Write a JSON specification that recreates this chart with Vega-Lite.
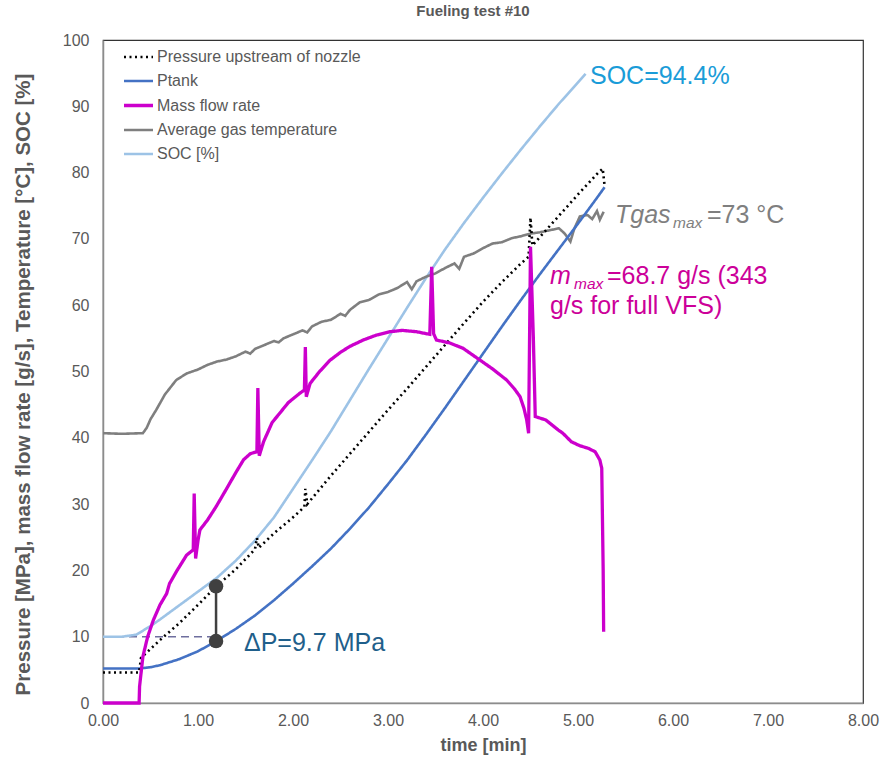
{
  "$schema": "https://vega.github.io/schema/vega-lite/v6.json",
  "width": 760,
  "height": 663,
  "autosize": {"type": "none"},
  "padding": {"left": 103, "top": 40, "right": 21, "bottom": 59},
  "background": "white",
  "title": {"text": "Fueling test #10", "fontSize": 15, "font": "Liberation Sans", "fontWeight": "bold", "color": "#595959", "offset": 13, "dx": -10},
  "config": {
    "view": {"stroke": "#333333", "strokeWidth": 1.2},
    "scale": {"continuousPadding": 0},
    "axis": {"grid": false, "ticks": false, "labelFlush": false, "domainColor": "#8c8c8c", "domainWidth": 1.5, "labelFont": "Liberation Sans", "labelFontSize": 16, "labelColor": "#595959", "titleFont": "Liberation Sans", "titleFontWeight": "bold", "titleFontSize": 18, "titleColor": "#595959"},
    "legend": {"labelFont": "Liberation Sans", "labelFontSize": 16, "labelColor": "#595959", "labelLimit": 400}
  },
  "datasets": {
    "series": [
      {"s": "SOC [%]", "t": 0, "v": 10}, {"s": "SOC [%]", "t": 0.2, "v": 10}, {"s": "SOC [%]", "t": 0.35, "v": 10.3}, {"s": "SOC [%]", "t": 0.5, "v": 11.6}, {"s": "SOC [%]", "t": 0.6, "v": 12.6}, {"s": "SOC [%]", "t": 0.8, "v": 14.7}, {"s": "SOC [%]", "t": 1.0, "v": 16.8}, {"s": "SOC [%]", "t": 1.2, "v": 18.9}, {"s": "SOC [%]", "t": 1.4, "v": 21.5}, {"s": "SOC [%]", "t": 1.6, "v": 24.5}, {"s": "SOC [%]", "t": 1.8, "v": 28.0}, {"s": "SOC [%]", "t": 2.0, "v": 32.3}, {"s": "SOC [%]", "t": 2.2, "v": 36.6}, {"s": "SOC [%]", "t": 2.4, "v": 41.0}, {"s": "SOC [%]", "t": 2.6, "v": 45.7}, {"s": "SOC [%]", "t": 2.8, "v": 50.4}, {"s": "SOC [%]", "t": 3.0, "v": 55.0}, {"s": "SOC [%]", "t": 3.2, "v": 59.6}, {"s": "SOC [%]", "t": 3.4, "v": 64.1}, {"s": "SOC [%]", "t": 3.6, "v": 68.4}, {"s": "SOC [%]", "t": 3.8, "v": 72.4}, {"s": "SOC [%]", "t": 4.0, "v": 76.2}, {"s": "SOC [%]", "t": 4.2, "v": 79.9}, {"s": "SOC [%]", "t": 4.4, "v": 83.5}, {"s": "SOC [%]", "t": 4.6, "v": 87.0}, {"s": "SOC [%]", "t": 4.8, "v": 90.4}, {"s": "SOC [%]", "t": 5.0, "v": 93.6}, {"s": "SOC [%]", "t": 5.08, "v": 94.9},

      {"s": "Average gas temperature", "t": 0, "v": 40.7}, {"s": "Average gas temperature", "t": 0.2, "v": 40.6}, {"s": "Average gas temperature", "t": 0.42, "v": 40.7}, {"s": "Average gas temperature", "t": 0.46, "v": 41.5}, {"s": "Average gas temperature", "t": 0.5, "v": 42.8}, {"s": "Average gas temperature", "t": 0.56, "v": 44.2}, {"s": "Average gas temperature", "t": 0.65, "v": 46.5}, {"s": "Average gas temperature", "t": 0.77, "v": 48.7}, {"s": "Average gas temperature", "t": 0.88, "v": 49.7}, {"s": "Average gas temperature", "t": 1.0, "v": 50.3}, {"s": "Average gas temperature", "t": 1.1, "v": 51.0}, {"s": "Average gas temperature", "t": 1.2, "v": 51.5}, {"s": "Average gas temperature", "t": 1.3, "v": 51.8}, {"s": "Average gas temperature", "t": 1.4, "v": 52.3}, {"s": "Average gas temperature", "t": 1.5, "v": 53.0}, {"s": "Average gas temperature", "t": 1.55, "v": 52.7}, {"s": "Average gas temperature", "t": 1.6, "v": 53.4}, {"s": "Average gas temperature", "t": 1.7, "v": 54.0}, {"s": "Average gas temperature", "t": 1.8, "v": 54.6}, {"s": "Average gas temperature", "t": 1.85, "v": 54.4}, {"s": "Average gas temperature", "t": 1.9, "v": 55.0}, {"s": "Average gas temperature", "t": 2.0, "v": 55.6}, {"s": "Average gas temperature", "t": 2.1, "v": 56.2}, {"s": "Average gas temperature", "t": 2.15, "v": 55.9}, {"s": "Average gas temperature", "t": 2.2, "v": 56.8}, {"s": "Average gas temperature", "t": 2.3, "v": 57.5}, {"s": "Average gas temperature", "t": 2.4, "v": 57.8}, {"s": "Average gas temperature", "t": 2.5, "v": 58.7}, {"s": "Average gas temperature", "t": 2.55, "v": 58.4}, {"s": "Average gas temperature", "t": 2.6, "v": 59.3}, {"s": "Average gas temperature", "t": 2.7, "v": 60.4}, {"s": "Average gas temperature", "t": 2.8, "v": 60.8}, {"s": "Average gas temperature", "t": 2.9, "v": 61.6}, {"s": "Average gas temperature", "t": 3.0, "v": 62.0}, {"s": "Average gas temperature", "t": 3.1, "v": 62.6}, {"s": "Average gas temperature", "t": 3.2, "v": 63.5}, {"s": "Average gas temperature", "t": 3.25, "v": 62.4}, {"s": "Average gas temperature", "t": 3.3, "v": 63.6}, {"s": "Average gas temperature", "t": 3.4, "v": 64.3}, {"s": "Average gas temperature", "t": 3.5, "v": 64.8}, {"s": "Average gas temperature", "t": 3.6, "v": 65.6}, {"s": "Average gas temperature", "t": 3.7, "v": 66.3}, {"s": "Average gas temperature", "t": 3.75, "v": 65.5}, {"s": "Average gas temperature", "t": 3.8, "v": 67.3}, {"s": "Average gas temperature", "t": 3.9, "v": 67.8}, {"s": "Average gas temperature", "t": 4.0, "v": 68.6}, {"s": "Average gas temperature", "t": 4.1, "v": 69.3}, {"s": "Average gas temperature", "t": 4.2, "v": 69.5}, {"s": "Average gas temperature", "t": 4.3, "v": 70.1}, {"s": "Average gas temperature", "t": 4.4, "v": 70.4}, {"s": "Average gas temperature", "t": 4.5, "v": 70.8}, {"s": "Average gas temperature", "t": 4.6, "v": 71.0}, {"s": "Average gas temperature", "t": 4.7, "v": 71.3}, {"s": "Average gas temperature", "t": 4.8, "v": 71.6}, {"s": "Average gas temperature", "t": 4.86, "v": 70.8}, {"s": "Average gas temperature", "t": 4.92, "v": 69.6}, {"s": "Average gas temperature", "t": 4.96, "v": 71.5}, {"s": "Average gas temperature", "t": 5.02, "v": 73.4}, {"s": "Average gas temperature", "t": 5.1, "v": 73.6}, {"s": "Average gas temperature", "t": 5.15, "v": 73.0}, {"s": "Average gas temperature", "t": 5.2, "v": 74.2}, {"s": "Average gas temperature", "t": 5.23, "v": 72.9}, {"s": "Average gas temperature", "t": 5.27, "v": 74.1},

      {"s": "Ptank", "t": 0, "v": 5.2}, {"s": "Ptank", "t": 0.38, "v": 5.2}, {"s": "Ptank", "t": 0.5, "v": 5.4}, {"s": "Ptank", "t": 0.6, "v": 5.7}, {"s": "Ptank", "t": 0.8, "v": 6.6}, {"s": "Ptank", "t": 1.0, "v": 7.8}, {"s": "Ptank", "t": 1.2, "v": 9.4}, {"s": "Ptank", "t": 1.4, "v": 11.2}, {"s": "Ptank", "t": 1.6, "v": 13.2}, {"s": "Ptank", "t": 1.8, "v": 15.5}, {"s": "Ptank", "t": 2.0, "v": 18.0}, {"s": "Ptank", "t": 2.2, "v": 20.6}, {"s": "Ptank", "t": 2.4, "v": 23.3}, {"s": "Ptank", "t": 2.6, "v": 26.3}, {"s": "Ptank", "t": 2.8, "v": 29.5}, {"s": "Ptank", "t": 3.0, "v": 33.0}, {"s": "Ptank", "t": 3.2, "v": 36.6}, {"s": "Ptank", "t": 3.4, "v": 40.5}, {"s": "Ptank", "t": 3.6, "v": 44.5}, {"s": "Ptank", "t": 3.8, "v": 48.6}, {"s": "Ptank", "t": 4.0, "v": 52.7}, {"s": "Ptank", "t": 4.2, "v": 56.8}, {"s": "Ptank", "t": 4.4, "v": 60.8}, {"s": "Ptank", "t": 4.6, "v": 64.7}, {"s": "Ptank", "t": 4.8, "v": 68.5}, {"s": "Ptank", "t": 5.0, "v": 72.3}, {"s": "Ptank", "t": 5.2, "v": 76.2}, {"s": "Ptank", "t": 5.28, "v": 77.8},

      {"s": "Pressure upstream of nozzle", "t": 0, "v": 4.6}, {"s": "Pressure upstream of nozzle", "t": 0.38, "v": 4.6}, {"s": "Pressure upstream of nozzle", "t": 0.4, "v": 6.8}, {"s": "Pressure upstream of nozzle", "t": 0.6, "v": 9.5}, {"s": "Pressure upstream of nozzle", "t": 0.8, "v": 12.0}, {"s": "Pressure upstream of nozzle", "t": 1.0, "v": 14.8}, {"s": "Pressure upstream of nozzle", "t": 1.2, "v": 17.7}, {"s": "Pressure upstream of nozzle", "t": 1.4, "v": 20.2}, {"s": "Pressure upstream of nozzle", "t": 1.6, "v": 23.2}, {"s": "Pressure upstream of nozzle", "t": 1.62, "v": 24.9}, {"s": "Pressure upstream of nozzle", "t": 1.64, "v": 23.4}, {"s": "Pressure upstream of nozzle", "t": 1.8, "v": 25.6}, {"s": "Pressure upstream of nozzle", "t": 2.0, "v": 28.0}, {"s": "Pressure upstream of nozzle", "t": 2.12, "v": 29.6}, {"s": "Pressure upstream of nozzle", "t": 2.13, "v": 32.3}, {"s": "Pressure upstream of nozzle", "t": 2.15, "v": 30.0}, {"s": "Pressure upstream of nozzle", "t": 2.4, "v": 34.3}, {"s": "Pressure upstream of nozzle", "t": 2.6, "v": 37.6}, {"s": "Pressure upstream of nozzle", "t": 2.8, "v": 40.9}, {"s": "Pressure upstream of nozzle", "t": 3.0, "v": 44.2}, {"s": "Pressure upstream of nozzle", "t": 3.2, "v": 47.4}, {"s": "Pressure upstream of nozzle", "t": 3.4, "v": 50.7}, {"s": "Pressure upstream of nozzle", "t": 3.6, "v": 54.0}, {"s": "Pressure upstream of nozzle", "t": 3.8, "v": 57.3}, {"s": "Pressure upstream of nozzle", "t": 4.0, "v": 60.5}, {"s": "Pressure upstream of nozzle", "t": 4.2, "v": 63.5}, {"s": "Pressure upstream of nozzle", "t": 4.4, "v": 66.3}, {"s": "Pressure upstream of nozzle", "t": 4.48, "v": 67.3}, {"s": "Pressure upstream of nozzle", "t": 4.5, "v": 73.2}, {"s": "Pressure upstream of nozzle", "t": 4.52, "v": 69.0}, {"s": "Pressure upstream of nozzle", "t": 4.6, "v": 70.3}, {"s": "Pressure upstream of nozzle", "t": 4.8, "v": 73.5}, {"s": "Pressure upstream of nozzle", "t": 5.0, "v": 76.7}, {"s": "Pressure upstream of nozzle", "t": 5.2, "v": 79.8}, {"s": "Pressure upstream of nozzle", "t": 5.26, "v": 80.6}, {"s": "Pressure upstream of nozzle", "t": 5.28, "v": 78.0},

      {"s": "Mass flow rate", "t": 0, "v": 0}, {"s": "Mass flow rate", "t": 0.38, "v": 0}, {"s": "Mass flow rate", "t": 0.385, "v": 2.5}, {"s": "Mass flow rate", "t": 0.42, "v": 7}, {"s": "Mass flow rate", "t": 0.47, "v": 10}, {"s": "Mass flow rate", "t": 0.53, "v": 12.5}, {"s": "Mass flow rate", "t": 0.6, "v": 14.8}, {"s": "Mass flow rate", "t": 0.67, "v": 16.5}, {"s": "Mass flow rate", "t": 0.7, "v": 18}, {"s": "Mass flow rate", "t": 0.78, "v": 20}, {"s": "Mass flow rate", "t": 0.88, "v": 22.3}, {"s": "Mass flow rate", "t": 0.95, "v": 23.1}, {"s": "Mass flow rate", "t": 0.96, "v": 31.6}, {"s": "Mass flow rate", "t": 0.975, "v": 21.8}, {"s": "Mass flow rate", "t": 1.0, "v": 24.5}, {"s": "Mass flow rate", "t": 1.02, "v": 26.1}, {"s": "Mass flow rate", "t": 1.1, "v": 27.6}, {"s": "Mass flow rate", "t": 1.19, "v": 29.6}, {"s": "Mass flow rate", "t": 1.3, "v": 32.3}, {"s": "Mass flow rate", "t": 1.4, "v": 34.8}, {"s": "Mass flow rate", "t": 1.48, "v": 36.7}, {"s": "Mass flow rate", "t": 1.55, "v": 37.6}, {"s": "Mass flow rate", "t": 1.62, "v": 37.9}, {"s": "Mass flow rate", "t": 1.63, "v": 47.5}, {"s": "Mass flow rate", "t": 1.645, "v": 37.3}, {"s": "Mass flow rate", "t": 1.69, "v": 39.4}, {"s": "Mass flow rate", "t": 1.78, "v": 42.3}, {"s": "Mass flow rate", "t": 1.86, "v": 43.7}, {"s": "Mass flow rate", "t": 1.95, "v": 45.3}, {"s": "Mass flow rate", "t": 2.07, "v": 46.7}, {"s": "Mass flow rate", "t": 2.12, "v": 47.2}, {"s": "Mass flow rate", "t": 2.13, "v": 53.7}, {"s": "Mass flow rate", "t": 2.14, "v": 46.2}, {"s": "Mass flow rate", "t": 2.18, "v": 48.2}, {"s": "Mass flow rate", "t": 2.28, "v": 50}, {"s": "Mass flow rate", "t": 2.39, "v": 51.7}, {"s": "Mass flow rate", "t": 2.5, "v": 52.9}, {"s": "Mass flow rate", "t": 2.6, "v": 53.8}, {"s": "Mass flow rate", "t": 2.74, "v": 54.75}, {"s": "Mass flow rate", "t": 2.88, "v": 55.5}, {"s": "Mass flow rate", "t": 3.02, "v": 56}, {"s": "Mass flow rate", "t": 3.15, "v": 56.2}, {"s": "Mass flow rate", "t": 3.3, "v": 56}, {"s": "Mass flow rate", "t": 3.44, "v": 55.6}, {"s": "Mass flow rate", "t": 3.46, "v": 65.8}, {"s": "Mass flow rate", "t": 3.48, "v": 55.7}, {"s": "Mass flow rate", "t": 3.51, "v": 54.75}, {"s": "Mass flow rate", "t": 3.65, "v": 54.3}, {"s": "Mass flow rate", "t": 3.79, "v": 53.5}, {"s": "Mass flow rate", "t": 3.97, "v": 51.7}, {"s": "Mass flow rate", "t": 4.1, "v": 50.4}, {"s": "Mass flow rate", "t": 4.25, "v": 48.7}, {"s": "Mass flow rate", "t": 4.33, "v": 47.4}, {"s": "Mass flow rate", "t": 4.39, "v": 46.2}, {"s": "Mass flow rate", "t": 4.43, "v": 44.5}, {"s": "Mass flow rate", "t": 4.46, "v": 42.7}, {"s": "Mass flow rate", "t": 4.48, "v": 40.7}, {"s": "Mass flow rate", "t": 4.5, "v": 68.8}, {"s": "Mass flow rate", "t": 4.53, "v": 55}, {"s": "Mass flow rate", "t": 4.55, "v": 43.2}, {"s": "Mass flow rate", "t": 4.66, "v": 42.7}, {"s": "Mass flow rate", "t": 4.79, "v": 41.2}, {"s": "Mass flow rate", "t": 4.84, "v": 40.7}, {"s": "Mass flow rate", "t": 4.93, "v": 39.4}, {"s": "Mass flow rate", "t": 5.02, "v": 38.8}, {"s": "Mass flow rate", "t": 5.11, "v": 38.4}, {"s": "Mass flow rate", "t": 5.18, "v": 37.9}, {"s": "Mass flow rate", "t": 5.23, "v": 36.65}, {"s": "Mass flow rate", "t": 5.25, "v": 35.4}, {"s": "Mass flow rate", "t": 5.265, "v": 20}, {"s": "Mass flow rate", "t": 5.27, "v": 10.75}
    ],
    "dp": [{"t": 1.19, "v": 17.6}, {"t": 1.19, "v": 9.35}]
  },
  "layer": [
    {
      "data": {"values": [{}]},
      "mark": {"type": "rule", "color": "#6e6e9e", "strokeWidth": 1.5, "strokeDash": [8, 5]},
      "encoding": {"x": {"datum": 0, "type": "quantitative"}, "x2": {"datum": 1.19}, "y": {"datum": 10, "type": "quantitative"}}
    },
    {
      "data": {"name": "series"},
      "mark": {"type": "line"},
      "encoding": {
        "x": {"field": "t", "type": "quantitative", "scale": {"domain": [0, 8], "nice": false, "padding": 0, "zero": false}, "axis": {"title": "time [min]", "format": ".2f", "values": [0, 1, 2, 3, 4, 5, 6, 7, 8], "labelPadding": 9, "titlePadding": 8}},
        "y": {"field": "v", "type": "quantitative", "scale": {"domain": [0, 100], "nice": false, "padding": 0}, "axis": {"title": "Pressure [MPa], mass flow rate [g/s], Temperature [°C], SOC [%]", "titleFontSize": 20.5, "titleX": -74, "titleY": 344, "titleBaseline": "alphabetic", "titleAngle": -90, "titleAlign": "center", "values": [0, 10, 20, 30, 40, 50, 60, 70, 80, 90, 100], "labelPadding": 14}},
        "color": {"field": "s", "type": "nominal", "scale": {"domain": ["Pressure upstream of nozzle", "Ptank", "Mass flow rate", "Average gas temperature", "SOC [%]"], "range": ["#000000", "#4472c4", "#cc00cc", "#7f7f7f", "#9dc3e6"]}, "legend": {"title": null, "orient": "none", "legendX": 19, "legendY": 1, "symbolType": "stroke", "symbolSize": 841, "rowPadding": -7, "labelOffset": 2, "padding": 0}},
        "strokeDash": {"field": "s", "type": "nominal", "scale": {"domain": ["Pressure upstream of nozzle", "Ptank", "Mass flow rate", "Average gas temperature", "SOC [%]"], "range": [[2, 3.5], [1, 0], [1, 0], [1, 0], [1, 0]]}, "legend": {"title": null, "orient": "none", "legendX": 19, "legendY": 1, "symbolType": "stroke", "symbolSize": 841, "rowPadding": -7, "labelOffset": 2, "padding": 0}},
        "strokeWidth": {"field": "s", "type": "nominal", "scale": {"type": "ordinal", "domain": ["Pressure upstream of nozzle", "Ptank", "Mass flow rate", "Average gas temperature", "SOC [%]"], "range": [2.6, 2.6, 3.3, 2.6, 2.6]}, "legend": {"title": null, "orient": "none", "legendX": 19, "legendY": 1, "symbolType": "stroke", "symbolSize": 841, "rowPadding": -7, "labelOffset": 2, "padding": 0}}
      }
    },
    {
      "data": {"name": "dp"},
      "mark": {"type": "line", "color": "#404040", "strokeWidth": 2.5},
      "encoding": {"x": {"field": "t", "type": "quantitative"}, "y": {"field": "v", "type": "quantitative"}}
    },
    {
      "data": {"name": "dp"},
      "mark": {"type": "circle", "color": "#404040", "size": 210, "opacity": 1},
      "encoding": {"x": {"field": "t", "type": "quantitative"}, "y": {"field": "v", "type": "quantitative"}}
    },
    {
      "data": {"values": [{}]},
      "mark": {"type": "text", "text": "ΔP=9.7 MPa", "align": "left", "baseline": "alphabetic", "fontSize": 25, "font": "Liberation Sans", "color": "#1f5f8b"},
      "encoding": {"x": {"datum": 1.484, "type": "quantitative"}, "y": {"datum": 7.9, "type": "quantitative"}}
    },
    {
      "data": {"values": [{}]},
      "mark": {"type": "text", "text": "SOC=94.4%", "align": "left", "baseline": "alphabetic", "fontSize": 25, "font": "Liberation Sans", "color": "#1a9cd8"},
      "encoding": {"x": {"datum": 5.126, "type": "quantitative"}, "y": {"datum": 93.4, "type": "quantitative"}}
    },
    {
      "data": {"values": [{}]},
      "mark": {"type": "text", "text": "Tgas", "align": "left", "baseline": "alphabetic", "fontSize": 25, "fontStyle": "italic", "font": "Liberation Sans", "color": "#7f7f7f"},
      "encoding": {"x": {"datum": 5.389, "type": "quantitative"}, "y": {"datum": 72.4, "type": "quantitative"}}
    },
    {
      "data": {"values": [{}]},
      "mark": {"type": "text", "text": "max", "align": "left", "baseline": "alphabetic", "fontSize": 15.5, "fontStyle": "italic", "font": "Liberation Sans", "color": "#7f7f7f"},
      "encoding": {"x": {"datum": 6.0, "type": "quantitative"}, "y": {"datum": 71.6, "type": "quantitative"}}
    },
    {
      "data": {"values": [{}]},
      "mark": {"type": "text", "text": "=73 °C", "align": "left", "baseline": "alphabetic", "fontSize": 25, "font": "Liberation Sans", "color": "#7f7f7f"},
      "encoding": {"x": {"datum": 6.358, "type": "quantitative"}, "y": {"datum": 72.4, "type": "quantitative"}}
    },
    {
      "data": {"values": [{}]},
      "mark": {"type": "text", "text": "m", "align": "left", "baseline": "alphabetic", "fontSize": 25, "fontStyle": "italic", "font": "Liberation Sans", "color": "#cc0099"},
      "encoding": {"x": {"datum": 4.705, "type": "quantitative"}, "y": {"datum": 63.2, "type": "quantitative"}}
    },
    {
      "data": {"values": [{}]},
      "mark": {"type": "text", "text": "max", "align": "left", "baseline": "alphabetic", "fontSize": 15.5, "fontStyle": "italic", "font": "Liberation Sans", "color": "#cc0099"},
      "encoding": {"x": {"datum": 4.958, "type": "quantitative"}, "y": {"datum": 62.4, "type": "quantitative"}}
    },
    {
      "data": {"values": [{}]},
      "mark": {"type": "text", "text": "=68.7 g/s (343", "align": "left", "baseline": "alphabetic", "fontSize": 25, "font": "Liberation Sans", "color": "#cc0099"},
      "encoding": {"x": {"datum": 5.305, "type": "quantitative"}, "y": {"datum": 63.2, "type": "quantitative"}}
    },
    {
      "data": {"values": [{}]},
      "mark": {"type": "text", "text": "g/s for full VFS)", "align": "left", "baseline": "alphabetic", "fontSize": 25, "font": "Liberation Sans", "color": "#cc0099"},
      "encoding": {"x": {"datum": 4.705, "type": "quantitative"}, "y": {"datum": 58.6, "type": "quantitative"}}
    }
  ]
}
